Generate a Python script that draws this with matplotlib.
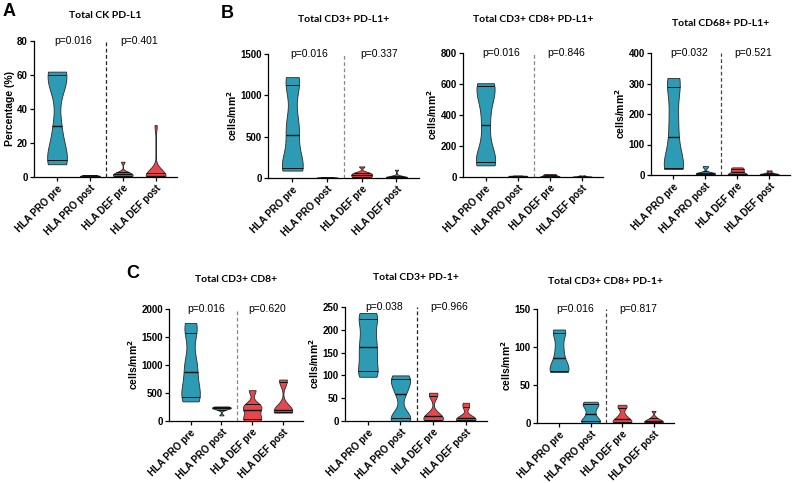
import numpy as np
import matplotlib
matplotlib.use("Agg")
import matplotlib.pyplot as plt
from matplotlib import cbook, mlab

groups = ["HLA PRO pre", "HLA PRO post", "HLA DEF pre", "HLA DEF post"]

# per-patient values (min / quartiles / median / max)
ck_pdl1 = [[7.5, 10, 14, 30, 55, 60, 62],
           [0.1, 0.3, 0.5, 0.6, 0.8, 1.0, 1.2],
           [0.1, 0.3, 0.5, 1.0, 1.5, 2.0, 2.5, 3.0, 9.0],
           [0.0, 0.1, 0.2, 0.4, 0.6, 1.0, 1.5, 2.0, 2.5, 30.5]]
cd3_pdl1 = [[90, 120, 200, 520, 700, 1120, 1220],
            [2, 4, 5, 6, 8, 10, 12],
            [0, 10, 20, 30, 40, 50, 60, 70, 140],
            [0, 2, 5, 8, 10, 15, 20, 30, 100]]
cd3_cd8_pdl1 = [[75, 95, 150, 335, 500, 585, 605],
                [2, 3, 4, 5, 6, 8, 10],
                [0, 3, 5, 8, 12, 16, 20],
                [0, 1, 2, 3, 4, 6, 10]]
cd68_pdl1 = [[20, 22, 50, 125, 200, 290, 318],
             [0, 1, 2, 3, 4, 6, 8, 10, 25, 30],
             [0, 2, 5, 10, 15, 20, 25],
             [0, 1, 2, 3, 5, 8, 15]]
cd3_cd8 = [[350, 430, 600, 880, 1100, 1580, 1750],
           [100, 200, 220, 235, 240, 250, 260],
           [0, 30, 100, 200, 250, 300, 550],
           [150, 160, 180, 200, 250, 700, 740]]
cd3_pd1 = [[97, 110, 140, 163, 190, 223, 237],
           [0, 7, 10, 60, 80, 93, 100],
           [0, 2, 5, 10, 15, 55, 62],
           [0, 2, 4, 7, 12, 30, 40]]
cd3_cd8_pd1 = [[67, 68, 75, 85, 100, 118, 123],
               [0, 2, 5, 12, 20, 25, 28],
               [0, 1, 3, 5, 10, 20, 24],
               [0, 0.5, 1, 2, 3, 4, 5, 8, 16]]

titles = ["Total CK PD-L1", "Total CD3+ PD-L1+", "Total CD3+ CD8+ PD-L1+",
          "Total CD68+ PD-L1+", "Total CD3+ CD8+", "Total CD3+ PD-1+",
          "Total CD3+ CD8+ PD-1+"]
pvals_pro = ["p=0.016", "p=0.016", "p=0.016", "p=0.032", "p=0.016", "p=0.038", "p=0.016"]
pvals_def = ["p=0.401", "p=0.337", "p=0.846", "p=0.521", "p=0.620", "p=0.966", "p=0.817"]
ylims = [80, 1500, 800, 400, 2000, 250, 150]
ysteps = [20, 500, 200, 100, 500, 50, 50]
ylabels = ["Percentage (%)"] + ["cells/mm$^\\mathbf{2}$"] * 6
datasets = [ck_pdl1, cd3_pdl1, cd3_cd8_pdl1, cd68_pdl1, cd3_cd8, cd3_pd1, cd3_cd8_pd1]

# axes boxes in pixels: left, right, top, bottom
boxes = [(34, 177, 41, 177), (268, 419, 54, 178), (463, 603, 53, 177),
         (651, 790, 53, 175), (169, 303, 309, 421), (345, 487, 307, 421),
         (537, 674, 309, 423)]
title_y = [15, 20, 20, 23, 280, 278, 282]
dash_colors = ["#222222", "#888888", "#888888", "#444444", "#888888", "#222222", "#444444"]

teal = "#2C9BB3"
red = "#E8464D"
W, H = 793, 483
width = 0.6

plt.rcParams["font.family"] = ["Liberation Sans", "DejaVu Sans"]
fig = plt.figure(figsize=(W / 100, H / 100), dpi=100)


def kde(X, coords):
    return mlab.GaussianKDE(X, 0.38).evaluate(coords)


for k, data in enumerate(datasets):
    l, r, t, b = boxes[k]
    ax = fig.add_axes([l / W, 1 - b / H, (r - l) / W, (b - t) / H])
    stats = cbook.violin_stats([np.asarray(d, float) for d in data], kde, points=300)
    for i, st in enumerate(stats):
        col = teal if i < 2 else red
        parts = ax.violin([st], positions=[i], widths=width, showmeans=False,
                          showextrema=False, showmedians=False)
        for pc in parts["bodies"]:
            pc.set_facecolor(col)
            pc.set_edgecolor("#2a2a2a")
            pc.set_linewidth(0.6)
            pc.set_alpha(1)
            pc.set_clip_on(False)
        d = np.asarray(data[i], float)
        half = st["vals"] / st["vals"].max() * width / 2
        qs = np.percentile(d, [25, 50, 75], method="weibull")
        for j, q in enumerate(qs):
            hw = np.interp(q, st["coords"], half)
            ax.plot([i - hw, i + hw], [q, q], color="#111111",
                    lw=1.0 if j == 1 else 0.7, zorder=3, solid_capstyle="butt")

    top = ylims[k]
    ax.set_xlim(-0.7, 3.65)
    ax.set_ylim(0, top)
    ax.set_yticks(np.arange(0, top + 1, ysteps[k]))
    ax.set_xticks(range(4))
    ax.set_xticklabels(groups, rotation=45, ha="right", rotation_mode="anchor",
                       fontsize=7, fontweight="bold")
    for lab in ax.get_yticklabels():
        lab.set_fontsize(7)
        lab.set_fontweight("bold")
    ax.tick_params(length=3, width=0.9, pad=1.5)
    for s in ["top", "right"]:
        ax.spines[s].set_visible(False)
    for s in ["left", "bottom"]:
        ax.spines[s].set_linewidth(0.9)
    ax.set_ylabel(ylabels[k], fontsize=7.5, fontweight="bold", labelpad=1)

    ax.plot([1.5, 1.5], [0, top], ls=(0, (3, 2)), lw=0.9, color=dash_colors[k])
    ax.text(0.5, top, pvals_pro[k], ha="center", va="center", fontsize=7.5)
    ax.text(2.5, top, pvals_def[k], ha="center", va="center", fontsize=7.5)

    fig.text((l + r) / 2 / W, 1 - title_y[k] / H, titles[k], ha="center", va="center",
             fontsize=7.5, fontweight="bold", family=["Lato", "DejaVu Sans"])

for letter, x, y in [("A", 9, 11), ("B", 227, 14), ("C", 133, 274)]:
    fig.text(x / W, 1 - y / H, letter, ha="center", va="center", fontsize=13,
             fontweight="bold")

fig.savefig("out.png", dpi=100)
